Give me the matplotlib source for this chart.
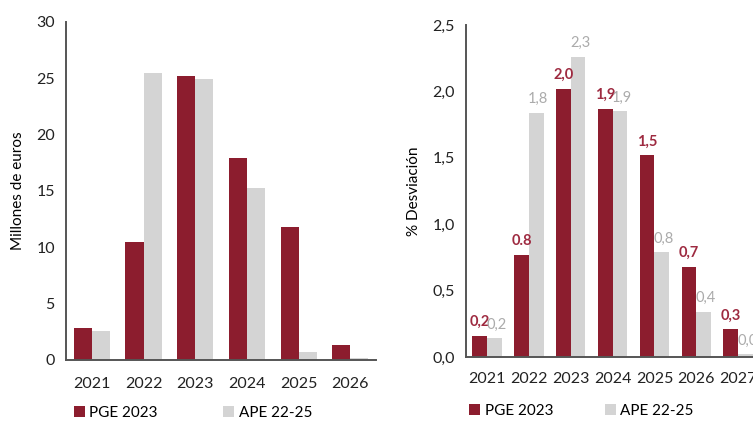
import matplotlib.pyplot as plt
import numpy as np

# Data
years_left = ["2021", "2022", "2023", "2024", "2025", "2026"]
pge_left = [2.8, 10.5, 25.2, 17.9, 11.8, 1.3]
ape_left = [2.6, 25.5, 24.9, 15.3, 0.7, 0.2]

years_right = ["2021", "2022", "2023", "2024", "2025", "2026", "2027"]
pge_right = [0.16, 0.77, 2.02, 1.87, 1.52, 0.68, 0.21]
ape_right = [0.14, 1.84, 2.26, 1.85, 0.79, 0.34, 0.02]
pge_labels = ["0,2", "0.8", "2,0", "1,9", "1,5", "0,7", "0,3"]
ape_labels = ["0,2", "1,8", "2,3", "1,9", "0,8", "0,4", "0,0"]

red = "#8c1d2e"
gray = "#d4d4d4"
red_txt = "#9e2a40"
gray_txt = "#ababab"
axis_col = "#555555"

plt.rcParams['font.family'] = ['Lato', 'DejaVu Sans']


def style_axes(ax):
    for s in ["top", "right"]:
        ax.spines[s].set_visible(False)
    for s in ["left", "bottom"]:
        ax.spines[s].set_color(axis_col)
        ax.spines[s].set_linewidth(1.4)
    ax.tick_params(length=0, labelsize=11.5, colors="#222222", pad=8)


fig = plt.figure(figsize=(7.53, 4.23), dpi=100)

# Left chart
ax1 = fig.add_axes([0.0876, 0.149, 0.412, 0.799])
x = np.arange(len(years_left))
w = 0.35
b1 = ax1.bar(x - w / 2, pge_left, w, color=red, label="PGE 2023")
b2 = ax1.bar(x + w / 2, ape_left, w, color=gray, label="APE 22-25")
ax1.set_xlim(-0.5, len(years_left) - 0.5)
ax1.set_ylim(0, 30)
ax1.set_yticks([0, 5, 10, 15, 20, 25, 30])
ax1.set_xticks(x)
ax1.set_xticklabels(years_left)
ax1.set_ylabel("Millones de euros", fontsize=11, labelpad=8)
style_axes(ax1)
ax1.tick_params(axis="x", pad=12)
fig.legend(handles=[b1, b2], loc="center left", bbox_to_anchor=(0.08, 0.024),
           ncol=2, frameon=False, fontsize=11, handlelength=0.7, handleheight=0.7,
           handletextpad=0.3, columnspacing=4.3)

# Right chart (runs off the right edge like the original)
ax2 = fig.add_axes([0.619, 0.156, 0.389, 0.785])
x = np.arange(len(years_right))
c1 = ax2.bar(x - w / 2, pge_right, w, color=red, label="PGE 2023")
c2 = ax2.bar(x + w / 2, ape_right, w, color=gray, label="APE 22-25")
ax2.set_xlim(-0.5, len(years_right) - 0.5)
ax2.set_ylim(0, 2.5)
ax2.set_yticks([0, 0.5, 1.0, 1.5, 2.0, 2.5])
ax2.set_yticklabels(["0,0", "0,5", "1,0", "1,5", "2,0", "2,5"])
ax2.set_xticks(x)
ax2.set_xticklabels(years_right)
ax2.set_ylabel("% Desviación", fontsize=11, labelpad=8)
style_axes(ax2)
ax2.tick_params(axis="x", pad=11)
for i in range(len(years_right)):
    ax2.text(x[i] - w / 2, pge_right[i] + 0.05, pge_labels[i], ha="center",
             va="bottom", color=red_txt, fontsize=10.5, fontweight="bold")
    ax2.text(x[i] + w / 2 + 0.05, ape_right[i] + 0.05, ape_labels[i], ha="center",
             va="bottom", color=gray_txt, fontsize=10.5)
fig.legend(handles=[c1, c2], loc="center left", bbox_to_anchor=(0.605, 0.028),
           ncol=2, frameon=False, fontsize=11, handlelength=0.7, handleheight=0.7,
           handletextpad=0.3, columnspacing=3.4)

fig.savefig("out.png", dpi=100)
